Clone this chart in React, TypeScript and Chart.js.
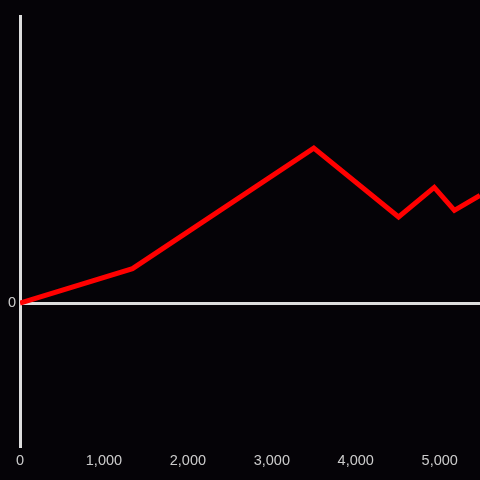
import React, { useEffect, useRef } from "react";
import { Chart, registerables } from "chart.js";

Chart.register(...registerables);

const xValues = [0, 1340, 3500, 4510, 4935, 5175, 5480];
const yValues = [0, 12, 54, 30, 40.3, 32.3, 37.5];
const xTickValues = [0, 1000, 2000, 3000, 4000, 5000];
const yTickValues = [0];

export default function App() {
  const ref = useRef<HTMLCanvasElement>(null);
  useEffect(() => {
    document.body.style.margin = "0";
    const chart = new Chart(ref.current!, {
      type: "line",
      data: {
        datasets: [
          {
            data: xValues.map((x, i) => ({ x, y: yValues[i] })),
            borderColor: "#ff0000",
            borderWidth: 5,
            pointRadius: 0,
            tension: 0,
            fill: false,
          },
        ],
      },
      options: {
        animation: false,
        responsive: false,
        maintainAspectRatio: false,
        layout: { padding: { top: 16, right: 0, left: 0, bottom: 4 } },
        plugins: { legend: { display: false }, tooltip: { enabled: false } },
        scales: {
          x: {
            type: "linear",
            min: 0,
            max: 5480,
            grid: { display: false, drawTicks: false },
            border: { display: false },
            afterBuildTicks: (axis: any) => {
              axis.ticks = xTickValues.map((v) => ({ value: v }));
            },
            ticks: {
              color: "#cccccc",
              font: { size: 14.5, family: "Liberation Sans, Arial, sans-serif" },
              padding: 6,
              maxRotation: 0,
              autoSkip: false,
            },
          },
          y: {
            type: "linear",
            min: -50,
            max: 100,
            afterBuildTicks: (axis: any) => {
              axis.ticks = yTickValues.map((v) => ({ value: v }));
            },
            afterFit: (scale: any) => {
              scale.width = 20;
            },
            grid: {
              color: "#dddddd",
              lineWidth: 3,
              drawTicks: false,
            },
            border: { display: true, color: "#dddddd", width: 3 },
            ticks: {
              color: "#cccccc",
              font: { size: 14.5, family: "Liberation Sans, Arial, sans-serif" },
              padding: 4,
            },
          },
        },
      },
    });
    return () => chart.destroy();
  }, []);
  return (
    <div style={{ width: 480, height: 480, background: "#050307" }}>
      <canvas ref={ref} width={480} height={480} style={{ display: "block" }} />
    </div>
  );
}
